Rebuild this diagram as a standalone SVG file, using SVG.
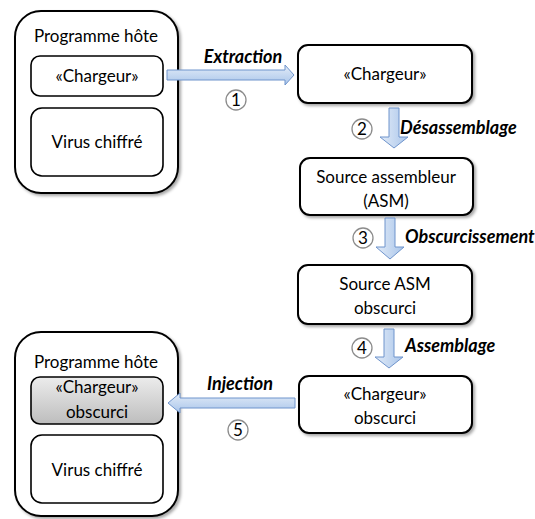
<svg xmlns="http://www.w3.org/2000/svg" width="535" height="519" viewBox="0 0 535 519">
  <defs>
    <filter id="shadow" x="-10%" y="-10%" width="130%" height="130%">
      <feDropShadow dx="2" dy="2" stdDeviation="1.5" flood-color="#000" flood-opacity="0.35"/>
    </filter>
    <linearGradient id="arrowH" x1="0" y1="0" x2="0" y2="1">
      <stop offset="0" stop-color="#e3ecf8"/>
      <stop offset="1" stop-color="#a9c5ea"/>
    </linearGradient>
    <linearGradient id="arrowV" x1="0" y1="0" x2="1" y2="0">
      <stop offset="0" stop-color="#e3ecf8"/>
      <stop offset="1" stop-color="#a9c5ea"/>
    </linearGradient>
    <linearGradient id="grey" x1="0" y1="0" x2="0" y2="1">
      <stop offset="0" stop-color="#ececec"/>
      <stop offset="1" stop-color="#bdbdbd"/>
    </linearGradient>
  </defs>
  <style>
    .box { fill: #fff; stroke: #000; stroke-width: 2; filter: url(#shadow); }
    .inner { fill: #fff; stroke: #000; stroke-width: 1.6; }
    .shaded { fill: url(#grey); stroke: #000; stroke-width: 1.6; }
    .t { font-family: Lato, "Liberation Sans", sans-serif; font-size: 17px; fill: #000; text-anchor: middle; }
    .lbl { font-family: Lato, "Liberation Sans", sans-serif; font-size: 18px; font-weight: bold; font-style: italic; fill: #000; }
    .num { fill: #fff; stroke: #8c8c8c; stroke-width: 1.3; }
    .numt { font-family: Lato, "Liberation Sans", sans-serif; font-size: 17px; fill: #000; text-anchor: middle; }
    .ah { fill: url(#arrowH); stroke: #6f94cc; stroke-width: 1; }
    .av { fill: url(#arrowV); stroke: #6f94cc; stroke-width: 1; }
  </style>

  <rect width="535" height="519" fill="#fff"/>

  <!-- Host program (original) -->
  <g id="host-original">
    <rect class="box" x="15" y="11" width="163" height="182" rx="26"/>
    <text class="t" x="96" y="42">Programme hôte</text>
    <rect class="inner" x="31" y="56" width="132" height="40" rx="9"/>
    <text class="t" x="97" y="82">«Chargeur»</text>
    <rect class="inner" x="31" y="108" width="132" height="68" rx="11"/>
    <text class="t" x="97" y="148">Virus chiffré</text>
  </g>

  <!-- Extracted loader -->
  <g id="loader">
    <rect class="box" x="298" y="45" width="174" height="58" rx="10"/>
    <text class="t" x="385" y="80">«Chargeur»</text>
  </g>

  <!-- Assembly source -->
  <g id="asm-source">
    <rect class="box" x="300" y="158" width="173" height="57" rx="10"/>
    <text class="t" x="386" y="183">Source assembleur</text>
    <text class="t" x="386" y="207">(ASM)</text>
  </g>

  <!-- Obfuscated assembly source -->
  <g id="asm-obfuscated">
    <rect class="box" x="298" y="265" width="174" height="59" rx="10"/>
    <text class="t" x="385" y="290">Source ASM</text>
    <text class="t" x="385" y="314">obscurci</text>
  </g>

  <!-- Obfuscated loader -->
  <g id="loader-obfuscated">
    <rect class="box" x="299" y="376" width="173" height="57" rx="10"/>
    <text class="t" x="385" y="400">«Chargeur»</text>
    <text class="t" x="385" y="424">obscurci</text>
  </g>

  <!-- Host program (rebuilt) -->
  <g id="host-rebuilt">
    <rect class="box" x="15" y="332" width="163" height="184" rx="26"/>
    <text class="t" x="96" y="368">Programme hôte</text>
    <rect class="shaded" x="31" y="377" width="132" height="47" rx="9"/>
    <text class="t" x="97" y="393">«Chargeur»</text>
    <text class="t" x="97" y="418">obscurci</text>
    <rect class="inner" x="31" y="435" width="132" height="68" rx="11"/>
    <text class="t" x="97" y="476">Virus chiffré</text>
  </g>

  <!-- Block arrows with step labels -->
  <g id="connectors">
    <!-- 1: Extraction -->
    <path class="ah" d="M167,70 H285 V65 L294,75 L285,85 V80 H167 Z"/>
    <text class="lbl" x="243" y="63" text-anchor="middle">Extraction</text>
    <circle class="num" cx="236" cy="100" r="10"/>
    <text class="numt" x="236" y="106">1</text>

    <!-- 2: Désassemblage -->
    <path class="av" d="M389,108 H399 V137 H408 L394,148 L380,137 H389 Z"/>
    <text class="lbl" x="400" y="134">Désassemblage</text>
    <circle class="num" cx="362" cy="129" r="10"/>
    <text class="numt" x="362" y="135">2</text>

    <!-- 3: Obscurcissement -->
    <path class="av" d="M385,218 H395 V247 H404 L390,259 L376,247 H385 Z"/>
    <text class="lbl" x="405" y="243">Obscurcissement</text>
    <circle class="num" cx="363" cy="238" r="10"/>
    <text class="numt" x="363" y="244">3</text>

    <!-- 4: Assemblage -->
    <path class="av" d="M384,329 H394 V357 H403 L389,368 L375,357 H384 Z"/>
    <text class="lbl" x="405" y="352">Assemblage</text>
    <circle class="num" cx="362" cy="348" r="10"/>
    <text class="numt" x="362" y="354">4</text>

    <!-- 5: Injection -->
    <path class="ah" d="M295,398 H180 V393 L168,403 L180,413 V408 H295 Z"/>
    <text class="lbl" x="240" y="390" text-anchor="middle">Injection</text>
    <circle class="num" cx="238" cy="430" r="10"/>
    <text class="numt" x="238" y="436">5</text>
  </g>
</svg>
